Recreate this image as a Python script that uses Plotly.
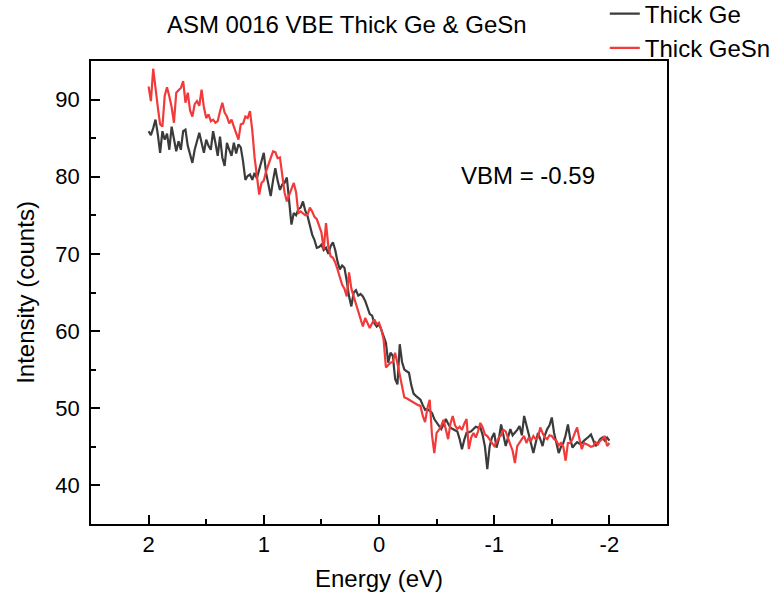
import numpy as np
import plotly.graph_objects as go

# Binding energy grid (eV), from 2.00 down to -2.00 in 0.02 eV steps
energy = np.round(np.linspace(2.0, -2.0, 201), 2)

# Intensity (counts), Thick Ge
thick_ge = [
    85.9, 85.4, 86.3, 87.4, 85.5, 83.1, 85.9, 84.8, 85.6, 83.5,
    86.5, 84.8, 83.3, 84.6, 83.5, 85.9, 86.1, 84.0, 83.0, 81.8,
    83.5, 84.8, 85.7, 84.4, 83.1, 84.8, 84.0, 83.5, 85.9, 84.4,
    82.7, 85.2, 82.5, 81.4, 84.4, 83.5, 82.7, 84.4, 83.0, 84.2,
    83.8, 82.0, 79.6, 80.1, 80.3, 79.6, 80.5, 79.8, 80.8, 81.9,
    83.1, 80.5, 79.0, 77.5, 79.5, 81.1, 79.5, 78.3, 79.0, 79.2,
    79.9, 76.5, 73.8, 75.3, 75.0, 75.8, 76.0, 76.8, 75.6, 74.9,
    73.8, 72.5, 71.8, 70.8, 70.9, 71.2, 70.5, 70.8, 70.0, 71.0,
    71.5, 70.5, 69.0, 68.0, 68.5, 68.2, 66.5, 64.5, 63.2, 65.0,
    65.3, 64.6, 64.8, 64.5, 63.9, 63.0, 62.2, 62.0, 61.0, 60.6,
    60.9, 60.2, 59.4, 58.5, 55.9, 57.2, 56.8, 53.8, 53.1, 58.3,
    56.0, 55.0, 54.8, 54.6, 53.0, 51.9, 51.6, 51.4, 51.1, 50.4,
    49.8, 49.9, 49.6, 49.4, 48.6, 48.2, 47.8, 47.3, 47.9, 48.6,
    48.0, 47.5, 47.3, 47.1, 47.0, 46.0, 44.7, 45.9, 46.8, 46.9,
    47.0, 47.3, 47.6, 47.5, 47.5, 46.5, 45.0, 42.1, 45.0, 46.2,
    46.8, 44.9, 46.0, 47.9, 46.5, 45.1, 46.2, 47.3, 46.5, 46.8,
    47.2, 47.7, 46.5, 49.0, 47.8, 46.4, 45.3, 44.2, 45.5, 46.8,
    46.0, 45.1, 46.5, 47.3, 47.8, 48.8, 46.8, 45.5, 44.2, 45.0,
    45.5, 46.5, 47.9, 46.0, 44.9, 45.3, 45.6, 45.4, 45.5, 45.8,
    46.0, 46.3, 46.6, 45.8, 45.1, 45.5, 46.0, 46.2, 45.8, 46.2,
    45.8,
]

# Intensity (counts), Thick GeSn
thick_gesn = [
    91.7, 89.8, 94.0, 91.1, 89.0, 86.8, 86.5, 90.5, 91.6, 90.4,
    89.0, 87.0, 90.9, 91.2, 91.5, 92.4, 89.6, 90.9, 88.6, 87.8,
    89.4, 89.8, 89.2, 91.3, 89.0, 87.6, 88.1, 87.2, 87.4, 87.0,
    87.2, 88.5, 89.6, 88.3, 87.8, 86.9, 87.4, 86.5, 85.6, 84.8,
    86.8, 86.9, 87.8, 87.6, 88.5, 86.0, 82.5, 80.0, 77.7, 79.2,
    79.5, 80.7, 81.5, 82.5, 83.3, 83.2, 82.4, 82.5, 80.1, 78.0,
    76.8, 77.7, 78.5, 79.2, 78.0, 75.3, 75.5, 75.2, 75.0, 75.1,
    76.0, 75.5, 74.8, 74.5, 73.6, 72.8, 70.6, 74.0, 71.0, 69.7,
    69.5, 68.9, 68.0, 66.9, 66.0, 65.5, 64.5, 67.6, 65.5, 64.5,
    63.5, 62.5, 61.5, 60.6, 61.7, 61.0, 60.4, 61.0, 61.5, 60.9,
    61.1, 60.2, 58.9, 55.3, 55.6, 55.9, 56.0, 57.2, 55.8, 54.2,
    52.8, 51.4, 51.3, 51.1, 50.9, 50.8, 50.6, 50.4, 50.3, 49.0,
    48.2, 50.0, 51.1, 46.5, 44.2, 46.8, 47.2, 47.7, 48.5, 47.2,
    46.0, 48.0, 49.0, 47.8, 47.3, 47.6, 47.2, 48.0, 48.6, 44.7,
    46.2, 46.8, 46.2, 47.0, 48.1, 47.5, 46.6, 46.4, 46.0, 45.5,
    45.1, 45.6, 46.2, 46.5, 47.2, 47.0, 46.0, 45.3, 44.5, 42.9,
    45.1, 45.6, 46.0, 46.4, 45.5, 46.2, 45.8, 46.4, 46.0, 46.2,
    47.5, 46.8, 46.2, 46.0, 46.5, 46.4, 46.0, 45.8, 45.2, 45.5,
    45.0, 43.2, 45.5, 45.5, 46.0, 46.8, 47.5, 46.0, 44.7, 45.5,
    45.4, 45.2, 45.0, 45.1, 45.6, 45.3, 45.8, 46.0, 46.4, 45.1,
    45.5,
]

x_ticks = [2, 1, 0, -1, -2]
x_tick_text = ["2", "1", "0", "-1", "-2"]
y_ticks = [40, 50, 60, 70, 80, 90]

vbm_label = "VBM = -0.59"
vbm_pos = (-1.29, 80.2)

FONT = "Arial, 'Liberation Sans', sans-serif"

fig = go.Figure()
fig.add_trace(go.Scatter(x=energy, y=thick_ge, mode="lines", name="Thick Ge",
                         line=dict(color="#3b3b3b", width=2.2)))
fig.add_trace(go.Scatter(x=energy, y=thick_gesn, mode="lines", name="Thick GeSn",
                         line=dict(color="#f23a3a", width=2.2)))

fig.add_annotation(x=vbm_pos[0], y=vbm_pos[1], xref="x", yref="y", text=vbm_label,
                   showarrow=False, font=dict(family=FONT, size=24, color="black"))

axis_common = dict(showline=True, linecolor="black", linewidth=1.5, mirror=True,
                   showgrid=False, zeroline=False, ticks="inside", ticklen=9,
                   tickwidth=1.5, tickcolor="black",
                   tickfont=dict(family=FONT, size=22, color="black"))

fig.update_xaxes(range=[2.5, -2.5], tickvals=x_ticks, ticktext=x_tick_text,
                 minor=dict(dtick=0.5, ticks="inside", ticklen=5, tickwidth=1.5,
                            tickcolor="black", showgrid=False),
                 ticklabelstandoff=0,
                 title=dict(text="Energy (eV)", font=dict(family=FONT, size=24, color="black"),
                            standoff=14),
                 **axis_common)
fig.update_yaxes(range=[35, 95], tickvals=y_ticks,
                 minor=dict(dtick=5, ticks="inside", ticklen=5, tickwidth=1.5,
                            tickcolor="black", showgrid=False),
                 ticklabelstandoff=5,
                 title=dict(text="Intensity (counts)", font=dict(family=FONT, size=24, color="black"),
                            standoff=14),
                 **axis_common)

fig.update_layout(
    width=775, height=596,
    margin=dict(l=91, r=108, t=61, b=72, autoexpand=False),
    paper_bgcolor="white", plot_bgcolor="white",
    font=dict(family=FONT, color="black"),
    title=dict(text="ASM 0016 VBE Thick Ge & GeSn", x=0.444, xref="paper", xanchor="center",
               y=1 - 25 / 596, yref="container", yanchor="middle",
               font=dict(family=FONT, size=24, color="black")),
    legend=dict(x=0.892, y=1.15, xanchor="left", yanchor="top",
                font=dict(family=FONT, size=24, color="black"),
                bgcolor="rgba(0,0,0,0)", tracegroupgap=0),
    showlegend=True,
)

fig.write_html("out.html")
